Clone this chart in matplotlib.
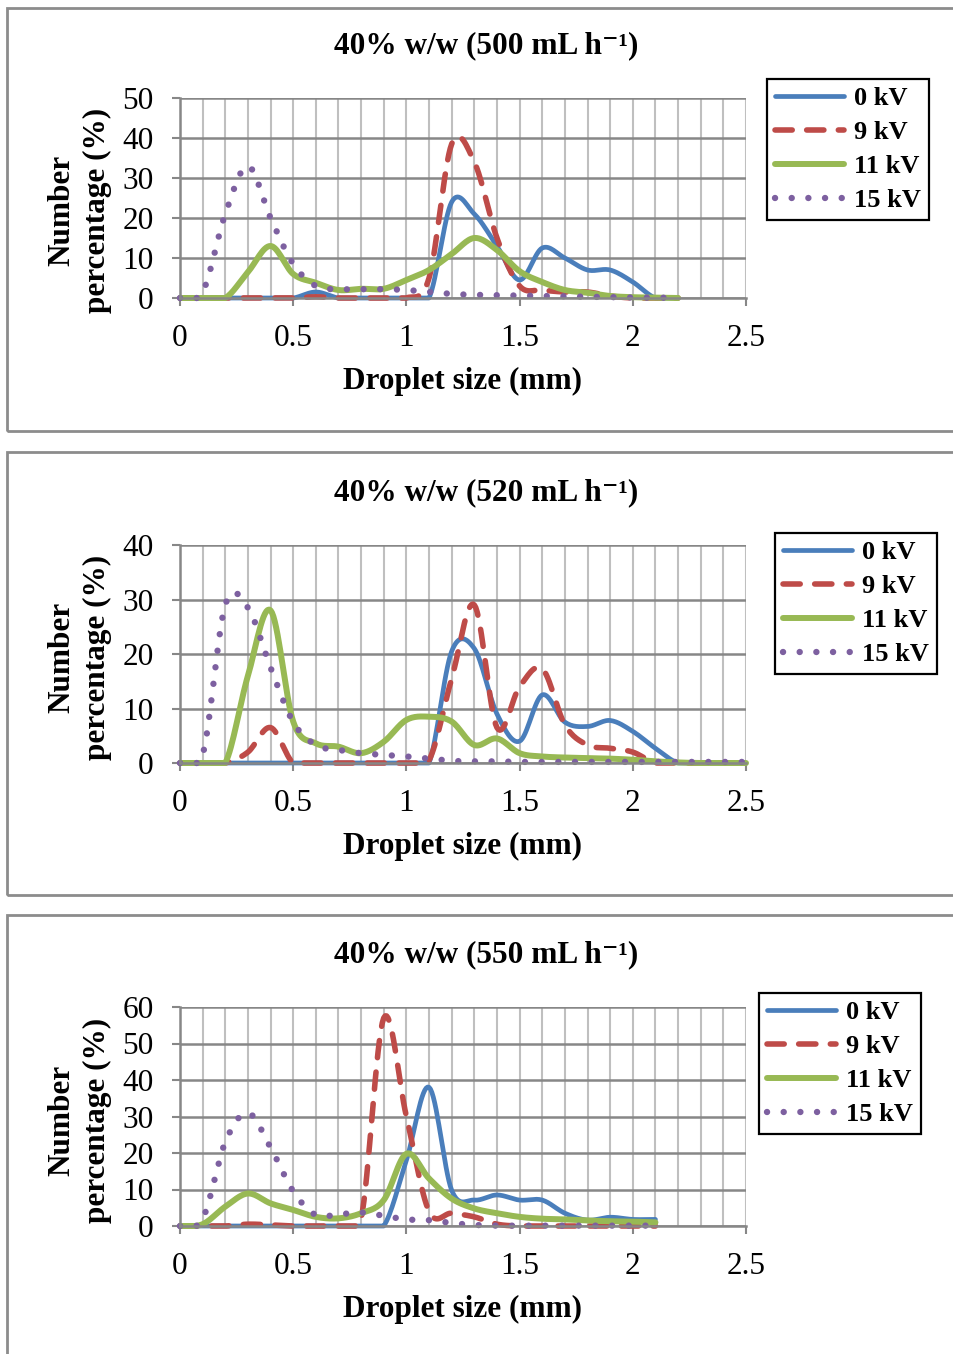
import matplotlib
matplotlib.use("Agg")
import matplotlib.pyplot as plt
from matplotlib.patches import Rectangle
import numpy as np

plt.rcParams['font.family'] = 'Liberation Serif'

# Datos (tamaño de gota en mm, porcentaje en número)
titles = ["40% w/w (500 mL h\u207b\u00b9)",
          "40% w/w (520 mL h\u207b\u00b9)",
          "40% w/w (550 mL h\u207b\u00b9)"]
series_names = ["0 kV", "9 kV", "11 kV", "15 kV"]
x_ticks = [0, 0.5, 1, 1.5, 2, 2.5]
x_tick_labels = ["0", "0.5", "1", "1.5", "2", "2.5"]

# 500 mL/h, x = 0 ... 2.2
x_500 = [0.0, 0.1, 0.2, 0.3, 0.4, 0.5, 0.6, 0.7, 0.8, 0.9, 1.0, 1.1,
         1.2, 1.3, 1.4, 1.5, 1.6, 1.7, 1.8, 1.9, 2.0, 2.1, 2.2]
kv0_500 = [0, 0, 0, 0, 0, 0, 1.5, 0, 0, 0, 0, 0,
           24, 21, 13, 4.5, 12.5, 10, 7, 7, 4, 0, 0]
kv9_500 = [0, 0, 0, 0, 0, 0, 0.3, 0, 0, 0, 0, 5,
           38.5, 34, 15, 3, 2, 1.5, 1.5, 0.5, 0, 0, 0]
kv11_500 = [0, 0, 0, 6.5, 13, 6, 3.8, 2, 2.3, 2.3, 4.5, 7,
            11, 15, 12, 6.7, 4, 2, 1.3, 0.5, 0.2, 0.1, 0]
kv15_500 = [0, 1.5, 21, 33, 20, 8.5, 3, 2.2, 2.2, 2.2, 2, 1.5,
            1, 0.8, 0.7, 0.6, 0.5, 0.4, 0.3, 0.2, 0.1, 0.1, 0]

# 520 mL/h, x = 0 ... 2.5
x_520 = [0.0, 0.1, 0.2, 0.3, 0.4, 0.5, 0.6, 0.7, 0.8, 0.9, 1.0, 1.1, 1.2,
         1.3, 1.4, 1.5, 1.6, 1.7, 1.8, 1.9, 2.0, 2.1, 2.2, 2.3, 2.4, 2.5]
kv0_520 = [0, 0, 0, 0, 0, 0, 0, 0, 0, 0, 0, 0, 20.5,
           21, 9, 4, 12.5, 7.5, 6.7, 7.8, 5.8, 2.7, 0, 0, 0, 0]
kv9_520 = [0, 0, 0, 2, 6.5, 0, 0, 0, 0, 0, 0, 0.5, 15.5,
           29, 6.5, 14, 17.3, 7, 3.3, 2.7, 2, 0, 0, 0, 0, 0]
kv11_520 = [0, 0, 0, 16, 28, 7.6, 3.6, 3, 1.8, 3.9, 7.9, 8.5, 7.6,
            3.3, 4.5, 1.8, 1.2, 1.0, 0.9, 0.8, 0.6, 0.3, 0.1, 0, 0, 0]
kv15_520 = [0, 1.5, 29, 28.5, 17.5, 7.5, 3.3, 2.4, 1.8, 1.5, 1.2, 0.8, 0.4,
            0.3, 0.3, 0.2, 0.2, 0.2, 0.2, 0.2, 0.2, 0.2, 0.2, 0.2, 0.2, 0.2]

# 550 mL/h, x = 0 ... 2.1
x_550 = [0.0, 0.1, 0.2, 0.3, 0.4, 0.5, 0.6, 0.7, 0.8, 0.9, 1.0,
         1.1, 1.2, 1.3, 1.4, 1.5, 1.6, 1.7, 1.8, 1.9, 2.0, 2.1]
kv0_550 = [0, 0, 0, 0, 0, 0, 0, 0, 0, 0, 18,
           38, 9.8, 7.1, 8.5, 7.1, 7.1, 3.5, 1.6, 2.4, 1.8, 1.8]
kv9_550 = [0, 0, 0, 0.5, 0.3, 0, 0, 0, 2, 57, 30,
           4, 3.5, 2.5, 0.5, 0, 0, 0, 0, 0, 0, 0]
kv11_550 = [0, 0.5, 5.3, 8.9, 6.2, 4.4, 2.5, 2.1, 3.5, 7.1, 19.8,
            13, 7.5, 4.8, 3.5, 2.5, 2, 1.8, 1.5, 1.3, 1.2, 1.0]
kv15_550 = [0, 2, 23, 31, 21.5, 9.5, 3, 3.2, 3.7, 2.8, 1.8,
            1.6, 0.8, 0.3, 0.1, 0.1, 0.1, 0.1, 0.1, 0.1, 0.1, 0.1]

y_max = [50, 40, 60]

W, H = 954, 1354


def fx(px):
    return px / W


def fy(py):
    return 1 - py / H


def smooth(x, y, n=16):
    """Curva suavizada tipo Excel (Catmull-Rom uniforme), sin bajar de cero."""
    x = np.asarray(x, float)
    y = np.asarray(y, float)
    xp = np.concatenate([[2 * x[0] - x[1]], x, [2 * x[-1] - x[-2]]])
    yp = np.concatenate([[y[0]], y, [y[-1]]])
    t = np.linspace(0, 1, n, endpoint=False)
    xs, ys = [], []
    for i in range(len(x) - 1):
        for arr, out in ((xp, xs), (yp, ys)):
            p0, p1, p2, p3 = arr[i:i + 4]
            out.append(0.5 * (2 * p1 + (-p0 + p2) * t
                              + (2 * p0 - 5 * p1 + 4 * p2 - p3) * t ** 2
                              + (-p0 + 3 * p1 - 3 * p2 + p3) * t ** 3))
    xs.append([x[-1]])
    ys.append([y[-1]])
    return np.concatenate(xs), np.clip(np.concatenate(ys), 0, None)


styles = [
    dict(color='#4A7EBB', lw=3.4, ls='-'),
    dict(color='#BE4B48', lw=4.0, ls=(0, (3.1, 2.6)), dash_capstyle='round'),
    dict(color='#98B954', lw=4.3, ls='-'),
    dict(color='#7D60A0', lw=4.6, ls=(0, (0.01, 2.6)), dash_capstyle='round'),
]

# posiciones en pixeles
panels = [
    dict(box=(7, 8, 431), ax=(98, 298), title=46, xlab=381, ylab=210, leg=(767, 79)),
    dict(box=(7, 452, 895), ax=(545, 763), title=493, xlab=846, ylab=657, leg=(775, 533)),
    dict(box=(7, 915, 1370), ax=(1007, 1226), title=955, xlab=1309, ylab=1120, leg=(759, 993)),
]

data = [
    (x_500, [kv0_500, kv9_500, kv11_500, kv15_500]),
    (x_520, [kv0_520, kv9_520, kv11_520, kv15_520]),
    (x_550, [kv0_550, kv9_550, kv11_550, kv15_550]),
]

fig = plt.figure(figsize=(W / 100, H / 100), dpi=100)
fs = 22.5
grid_dark = '#878787'
grid_light = '#BFBFBF'

for k, p in enumerate(panels):
    bx, by0, by1 = p['box']
    fig.patches.append(Rectangle((fx(bx), fy(by1)), fx(1000 - bx), fy(by0) - fy(by1),
                                 transform=fig.transFigure, fill=False,
                                 edgecolor='#8C8C8C', lw=2))
    top, bot = p['ax']
    ax = fig.add_axes([fx(180), fy(bot), fx(566), (bot - top) / H])

    x, ys = data[k]
    lines = []
    for yv, st in zip(ys, styles):
        sx, sy = smooth(x, yv)
        ln, = ax.plot(sx, sy, clip_on=False, solid_capstyle='round', **st)
        lines.append(ln)

    ax.set_xlim(0, 2.5)
    ax.set_ylim(0, y_max[k])
    ax.set_xticks(x_ticks)
    ax.set_xticklabels(x_tick_labels)
    ax.set_xticks(np.arange(0, 2.51, 0.1), minor=True)
    ax.set_yticks(np.arange(0, y_max[k] + 1, 10))
    ax.grid(which='both', axis='x', color=grid_light, lw=1.5)
    ax.grid(which='major', axis='y', color=grid_dark, lw=1.8)
    ax.set_axisbelow(True)
    for s in ['top', 'right']:
        ax.spines[s].set_visible(False)
    for s in ['left', 'bottom']:
        ax.spines[s].set_color(grid_dark)
        ax.spines[s].set_linewidth(1.8)
    ax.tick_params(which='major', direction='out', length=6, width=1.5,
                   color=grid_dark, labelsize=fs)
    ax.tick_params(axis='x', pad=12.5)
    ax.tick_params(axis='y', pad=13)
    ax.tick_params(which='minor', length=0)

    fig.text(fx(486), fy(p['title']), titles[k], ha='center', va='center',
             fontsize=fs, fontweight='bold',
             family=['Liberation Serif', 'DejaVu Serif'])
    fig.text(fx(463), fy(p['xlab']), "Droplet size (mm)", ha='center', va='center',
             fontsize=fs, fontweight='bold')
    fig.text(fx(80), fy(p['ylab']), "Number\npercentage (%)", ha='center', va='center',
             rotation=90, multialignment='center', linespacing=1.3,
             fontsize=fs, fontweight='bold')

    lx, ly = p['leg']
    leg = fig.legend(lines, series_names, loc='upper left',
                     bbox_to_anchor=(fx(lx), fy(ly)), bbox_transform=fig.transFigure,
                     prop={'family': 'Liberation Serif', 'weight': 'bold', 'size': 19},
                     handlelength=2.6, handletextpad=0.4, labelspacing=0.4,
                     borderpad=0.3, borderaxespad=0, fancybox=False,
                     edgecolor='black', framealpha=1)
    leg.get_frame().set_linewidth(1.6)

fig.savefig("out.png", dpi=100)
